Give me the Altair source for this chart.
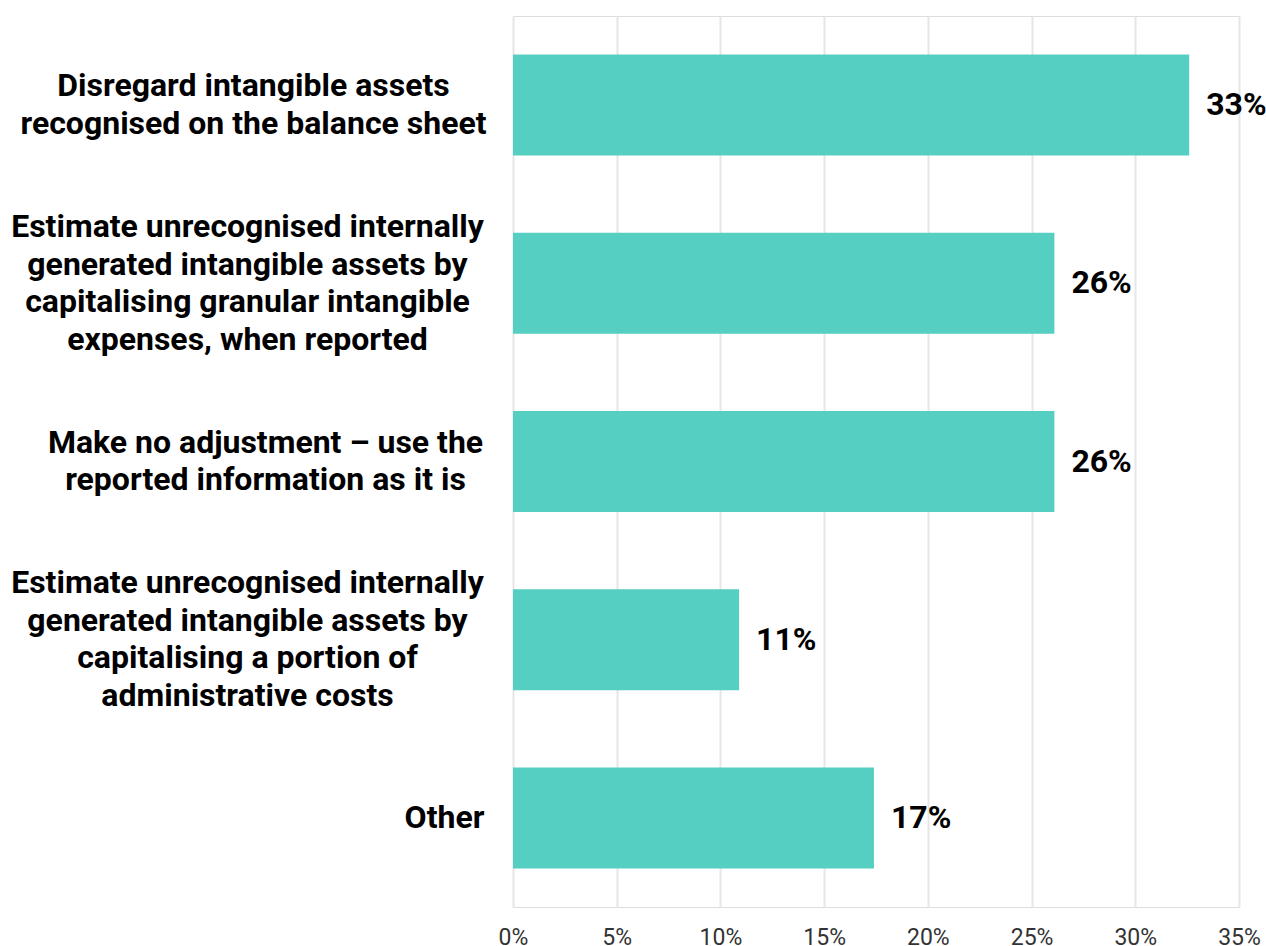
import altair as alt
import pandas as pd

# Survey answers, each split into the lines it is printed on
answer_lines = [
    ["Disregard intangible assets", "recognised on the balance sheet"],
    ["Estimate unrecognised internally", "generated intangible assets by",
     "capitalising granular intangible", "expenses, when reported"],
    ["Make no adjustment \u2013 use the", "reported information as it is"],
    ["Estimate unrecognised internally", "generated intangible assets by",
     "capitalising a portion of", "administrative costs"],
    ["Other"],
]
shares = [0.326, 0.261, 0.261, 0.109, 0.174]
tick_values = [0, 0.05, 0.10, 0.15, 0.20, 0.25, 0.30, 0.35]

answers = ["\n".join(lines) for lines in answer_lines]
df = pd.DataFrame({"answer": answers, "share": shares})

BAR = "#55CFC2"
LABEL_FONT = "Roboto"
LABEL_SIZE = 32
LINE_HEIGHT = 37.5

# Lines of each answer are centred on one another; the padding puts the centre
# of each block so that its widest line ends just left of the bars.
pad_rules = [
    {"test": "indexof(datum.value, 'Disregard') == 0", "value": 260},
    {"test": "indexof(datum.value, 'Make no') == 0", "value": 248},
    {"test": "indexof(datum.value, 'Estimate') == 0", "value": 266},
]

# Shift multi-line blocks up so that each block is centred on its bar
offset_rules = [
    {"test": "length(split(datum.value, '\\n')) == %d" % n,
     "value": -(n - 1) * LINE_HEIGHT / 2}
    for n in (2, 3, 4)
]

y_enc = alt.Y(
    "answer:N",
    sort=answers,
    title=None,
    scale=alt.Scale(paddingInner=0.433, paddingOuter=0.2165),
    axis=alt.Axis(
        domain=False,
        ticks=False,
        labelExpr="split(datum.label, '\\n')",
        labelFont=LABEL_FONT,
        labelFontWeight="bold",
        labelFontSize=LABEL_SIZE,
        labelLineHeight=LINE_HEIGHT,
        labelColor="#000000",
        labelAlign="center",
        labelBaseline="middle",
        labelLimit=0,
        labelPadding={"condition": pad_rules, "value": 69},
        labelOffset={"condition": offset_rules, "value": 0},
    ),
)

x_enc = alt.X(
    "share:Q",
    title=None,
    scale=alt.Scale(domain=[0, 0.35], nice=False),
    axis=alt.Axis(
        values=tick_values,
        format=".0%",
        domain=False,
        ticks=False,
        grid=True,
        gridColor="#e6e6e6",
        gridWidth=2,
        labelFont=LABEL_FONT,
        labelFontSize=23,
        labelColor="#333333",
        labelBaseline="alphabetic",
        labelPadding=37,
        labelFlush=False,
    ),
)

bars = alt.Chart(df).mark_bar(color=BAR).encode(x=x_enc, y=y_enc)

values = alt.Chart(df).mark_text(
    align="left",
    baseline="middle",
    dx=17,
    font=LABEL_FONT,
    fontWeight="bold",
    fontSize=LABEL_SIZE,
    color="#000000",
).encode(
    x="share:Q",
    y=alt.Y("answer:N", sort=answers),
    text=alt.Text("share:Q", format=".0%"),
)

chart = (
    alt.layer(bars, values)
    .properties(
        width=726,
        height=891,
        autosize="none",
        padding={"left": 513, "top": 16, "right": 27, "bottom": 39},
    )
    .configure_view(stroke=None)
    .configure(background="#ffffff")
)

chart.save("out.html", embed_options={"renderer": "svg", "actions": False})
